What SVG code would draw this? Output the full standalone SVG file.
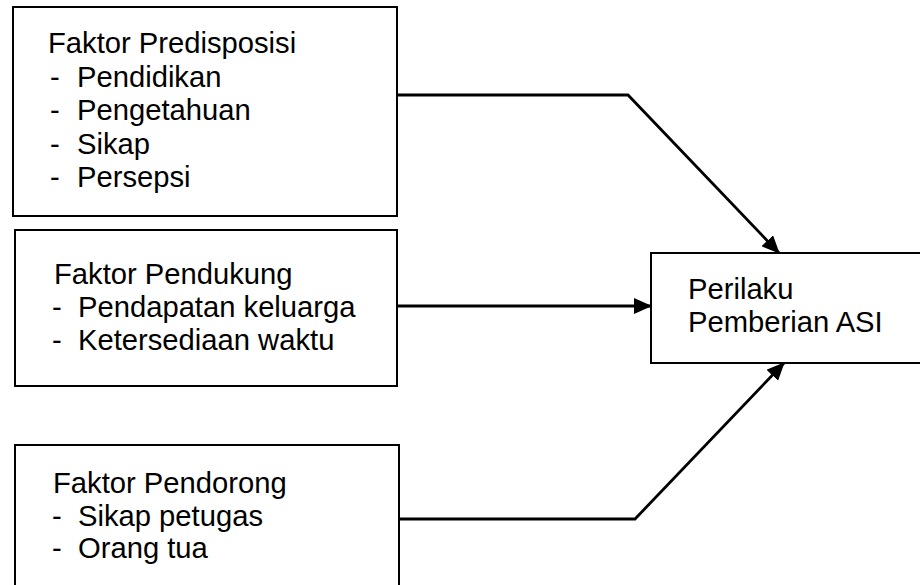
<svg xmlns="http://www.w3.org/2000/svg" width="920" height="585" viewBox="0 0 920 585">
<style>
.box{fill:#fff;stroke:#000;stroke-width:2}
.t{font-family:"Liberation Sans",Arial,sans-serif;font-size:29.2px;fill:#000}
.c{fill:none;stroke:#000;stroke-width:2.8;stroke-linejoin:miter}
</style>
<defs>
<marker id="ah" markerUnits="userSpaceOnUse" markerWidth="18" markerHeight="16" refX="17" refY="8" orient="auto" viewBox="0 0 18 16">
<path d="M0,0 L18,8 L0,16 Z" fill="#000"/>
</marker>
</defs>
<rect width="920" height="585" fill="#fff"/>
<g id="node-predisposisi">
<rect class="box" x="13" y="7" width="384" height="209"/>
<text class="t" x="48" y="53">Faktor Predisposisi</text>
<text class="t" x="50" y="87">-</text><text class="t" x="77" y="87">Pendidikan</text>
<text class="t" x="50" y="120">-</text><text class="t" x="77" y="120">Pengetahuan</text>
<text class="t" x="50" y="154">-</text><text class="t" x="77" y="154">Sikap</text>
<text class="t" x="50" y="187">-</text><text class="t" x="77" y="187">Persepsi</text>
</g>
<g id="node-pendukung">
<rect class="box" x="15" y="230" width="382" height="156"/>
<text class="t" x="54" y="284">Faktor Pendukung</text>
<text class="t" x="52" y="317">-</text><text class="t" x="78" y="317">Pendapatan keluarga</text>
<text class="t" x="52" y="350">-</text><text class="t" x="78" y="350">Ketersediaan waktu</text>
</g>
<g id="node-pendorong">
<rect class="box" x="15" y="445" width="384" height="150"/>
<text class="t" x="53" y="493">Faktor Pendorong</text>
<text class="t" x="52" y="526">-</text><text class="t" x="78" y="526">Sikap petugas</text>
<text class="t" x="52" y="558">-</text><text class="t" x="78" y="558">Orang tua</text>
</g>
<g id="node-perilaku">
<rect class="box" x="651" y="253" width="280" height="110"/>
<text class="t" x="688" y="299">Perilaku</text>
<text class="t" x="688" y="332">Pemberian ASI</text>
</g>
<g id="connectors">
<path class="c" d="M397,95 L628,95 L779,253" marker-end="url(#ah)"/>
<path class="c" d="M397,306 L651,306" marker-end="url(#ah)"/>
<path class="c" d="M400,519 L635,519 L784,363" marker-end="url(#ah)"/>
</g>
</svg>
